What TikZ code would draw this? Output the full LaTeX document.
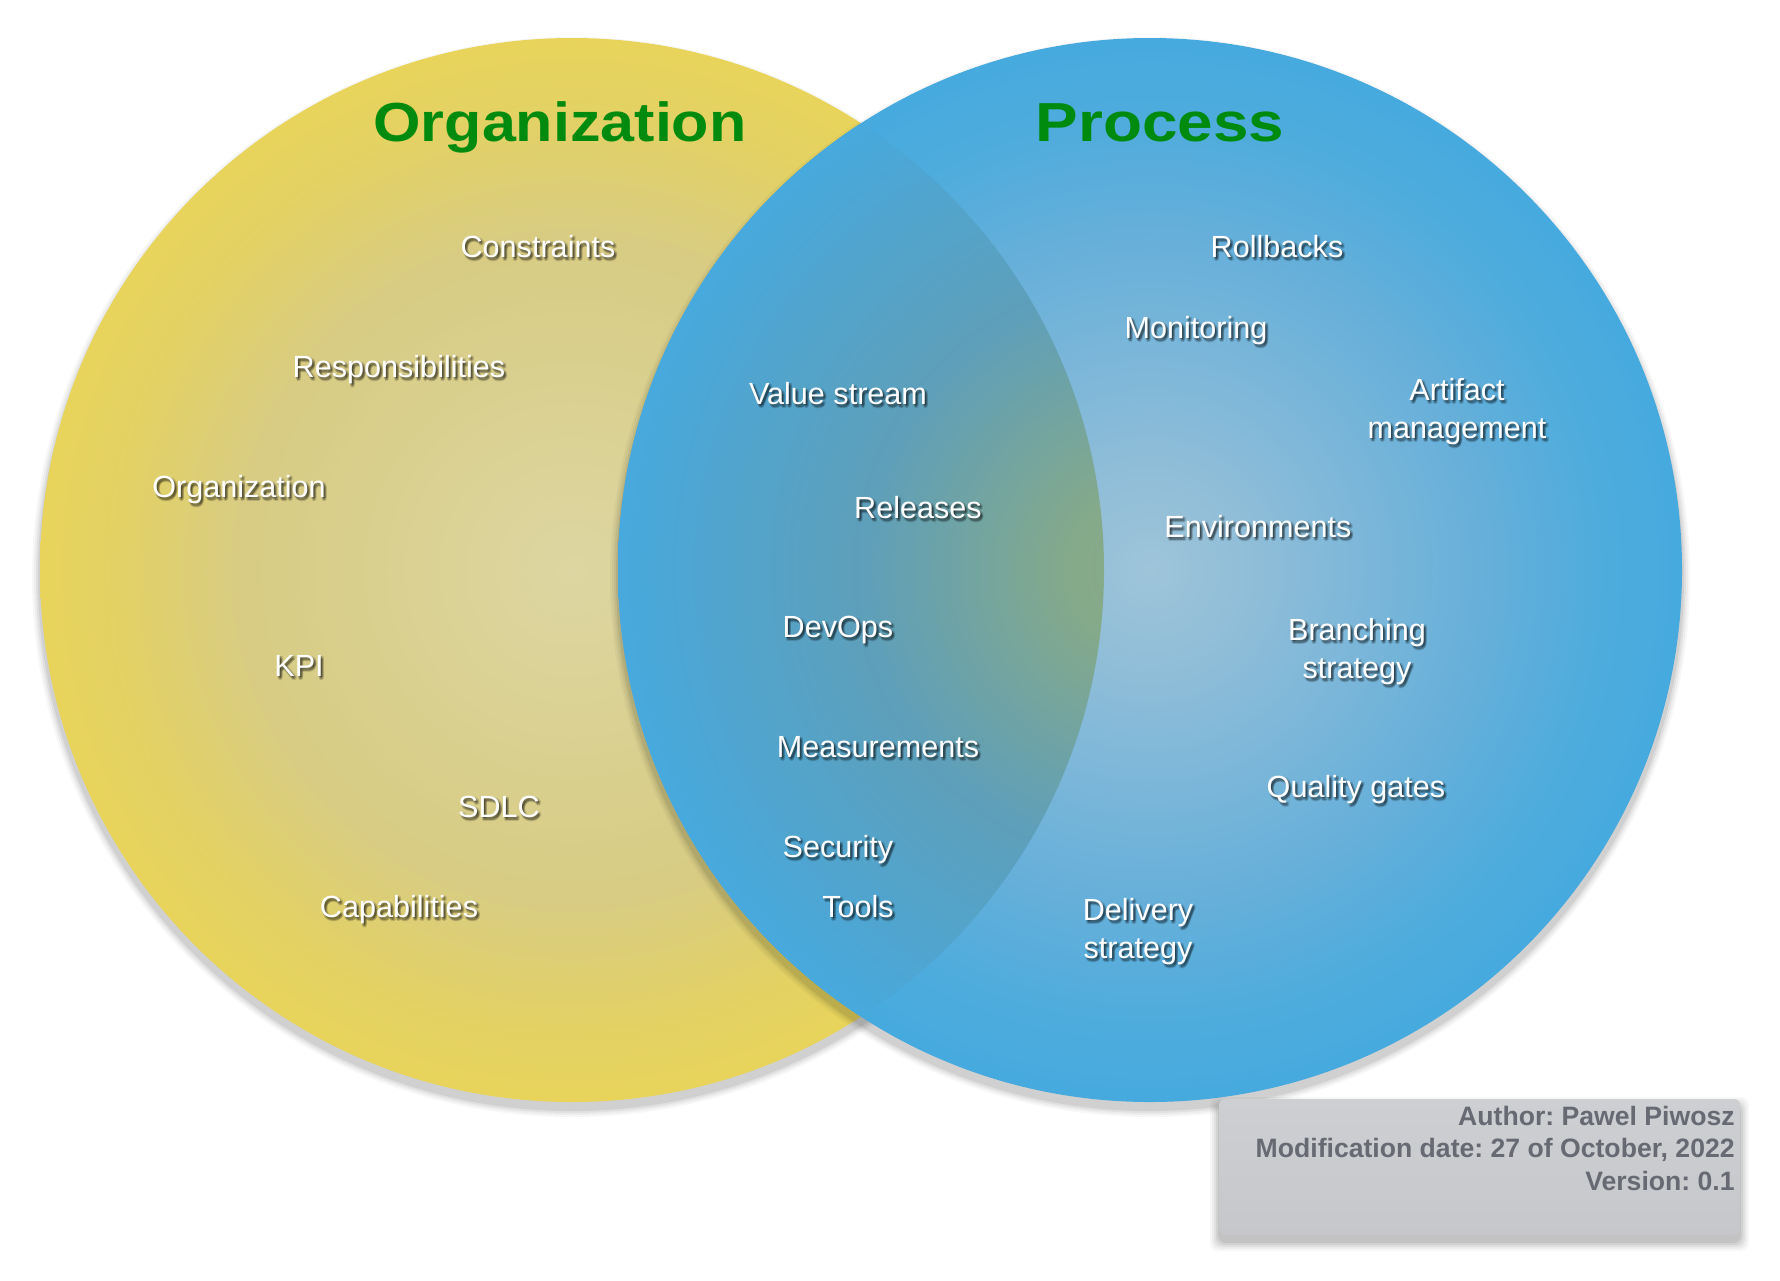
\documentclass[tikz,border=0pt]{standalone}
\usepackage{fontspec}
\setmainfont{Liberation Sans}
\usepackage{graphicx}
\frenchspacing
\definecolor{yc0}{HTML}{DDD6A2}
\definecolor{yc1}{HTML}{D9CF8D}
\definecolor{yc2}{HTML}{D8CC84}
\definecolor{yc3}{HTML}{E2D166}
\definecolor{yc4}{HTML}{E8D45B}
\definecolor{bc0}{HTML}{9EC4D9}
\definecolor{bc1}{HTML}{8FBDD8}
\definecolor{bc2}{HTML}{65AFDA}
\definecolor{bc3}{HTML}{4FACDC}
\definecolor{bc4}{HTML}{46AADF}
\definecolor{lc0}{HTML}{8AAD86}
\definecolor{lc1}{HTML}{84A98B}
\definecolor{lc2}{HTML}{5E9FBA}
\definecolor{lc3}{HTML}{4FA5D0}
\definecolor{lc4}{HTML}{47A9DD}
\definecolor{titlegreen}{RGB}{0,138,14}
\definecolor{infotext}{HTML}{676A72}
\definecolor{infotop}{HTML}{CDCFD3}
\definecolor{infobot}{HTML}{C5C7CB}
% the path's bounding box maps to the middle 50bp square: circle edge = 25bp
\pgfdeclareradialshading{yelshade}{\pgfpoint{0bp}{0bp}}{color(0bp)=(yc0); color(10bp)=(yc1); color(15.5bp)=(yc2); color(21bp)=(yc3); color(25bp)=(yc4); color(50bp)=(yc4)}
\pgfdeclareradialshading{blushade}{\pgfpoint{0bp}{0bp}}{color(0bp)=(bc0); color(5bp)=(bc1); color(16bp)=(bc2); color(21bp)=(bc3); color(25bp)=(bc4); color(50bp)=(bc4)}
\pgfdeclareradialshading{lensshade}{\pgfpoint{0bp}{0bp}}{color(0bp)=(lc0); color(4bp)=(lc1); color(13.5bp)=(lc2); color(21bp)=(lc3); color(25bp)=(lc4); color(50bp)=(lc4)}
% one line of text with a soft dark drop shadow, inside a single node
\newcommand\shcopy[3]{\rlap{\hspace{#1}\raisebox{#2}{#3}}}
\newcommand\shd[1]{%
  \begingroup\pgfsetfillopacity{0.15}\color{black}%
  \shcopy{0.5pt}{-0.5pt}{#1}\shcopy{1.5pt}{-0.5pt}{#1}%
  \shcopy{0.5pt}{-1.5pt}{#1}\shcopy{1.5pt}{-1.5pt}{#1}%
  \shcopy{1pt}{-1pt}{#1}\shcopy{1pt}{-2pt}{#1}%
  \pgfsetfillopacity{1}\endgroup#1}
\tikzset{
  lab/.style={text=white, anchor=base, align=center, inner sep=0pt,
    font=\fontsize{15.3}{18.7}\selectfont},
  maintitle/.style={text=titlegreen, anchor=base, inner sep=0pt,
    font=\fontsize{27.5}{30}\selectfont\bfseries},
  infobox/.style={rounded corners=3pt, top color=infotop, bottom color=infobot,
    minimum width=260.5pt, minimum height=68pt, inner sep=0pt},
  infotxt/.style={text=infotext, anchor=base east, align=right, inner sep=0pt,
    font=\fontsize{13.3}{16.2}\selectfont\bfseries},
}
\begin{document}
\begin{tikzpicture}[x=0.5pt,y=-0.5pt]
\useasboundingbox (0,0) rectangle (1780,1280);
\fill[white] (0,0) rectangle (1780,1280);
% yellow circle shadow and fill
\foreach \r/\o in {270/0.03,269/0.04,268/0.05,267/0.07}
  \fill[black,opacity=\o] (572,577) circle[radius=\r pt];
\shade[shading=yelshade] (572,570) circle[radius=266pt];
% blue circle shadow and fill
\foreach \r/\o in {270/0.03,269/0.04,268/0.05,267/0.07}
  \fill[black,opacity=\o] (1150,577) circle[radius=\r pt];
\shade[shading=blushade] (1150,570) circle[radius=266pt];
% lens
\begin{scope}
  \clip (572,570) circle[radius=266pt];
  \shade[shading=lensshade] (1150,570) circle[radius=266pt];
\end{scope}
% titles
\node[maintitle] (orgtitle) at (560,141) {\scalebox{1.11}[1]{Organization}};
\node[maintitle] (proctitle) at (1160,141) {\scalebox{1.16}[1]{Process}};
% organization labels
\node[lab] (constraints) at (538,257) {\shd{Constraints}};
\node[lab] (responsibilities) at (399,377) {\shd{Responsibilities}};
\node[lab] (organization) at (239,497) {\shd{Organization}};
\node[lab] (kpi) at (299,676) {\shd{KPI}};
\node[lab] (sdlc) at (499,817) {\shd{SDLC}};
\node[lab] (capabilities) at (399,917) {\shd{Capabilities}};
% shared labels
\node[lab] (valuestream) at (838,404) {\shd{Value stream}};
\node[lab] (releases) at (918,518) {\shd{Releases}};
\node[lab] (devops) at (838,637) {\shd{DevOps}};
\node[lab] (measurements) at (878,757) {\shd{Measurements}};
\node[lab] (security) at (838,857) {\shd{Security}};
\node[lab] (tools) at (858,917) {\shd{Tools}};
% process labels (multi-line nodes: base = last line)
\node[lab] (rollbacks) at (1277,257) {\shd{Rollbacks}};
\node[lab] (monitoring) at (1196,338) {\shd{Monitoring}};
\node[lab] (artifact) at (1457,438) {\shd{Artifact}\\\shd{management}};
\node[lab] (environments) at (1258,537) {\shd{Environments}};
\node[lab] (branching) at (1357,678) {\shd{Branching}\\\shd{strategy}};
\node[lab] (quality) at (1356,797) {\shd{Quality gates}};
\node[lab] (delivery) at (1138,958) {\shd{Delivery}\\\shd{strategy}};
% info box
\foreach \d/\o in {9/0.03,7/0.04,5/0.05,3/0.06,1/0.07}
  \fill[black,opacity=\o,rounded corners=4pt] (1219-\d,1099-\d+7) rectangle (1740+\d,1235+\d+7);
\node[infobox] (infobox) at (1479.5,1167) {};
\node[infotxt] (infotext) at (1735,1190) {Author: Pawel Piwosz\\Modification date: 27 of October, 2022\\Version: 0.1};
\end{tikzpicture}
\end{document}
